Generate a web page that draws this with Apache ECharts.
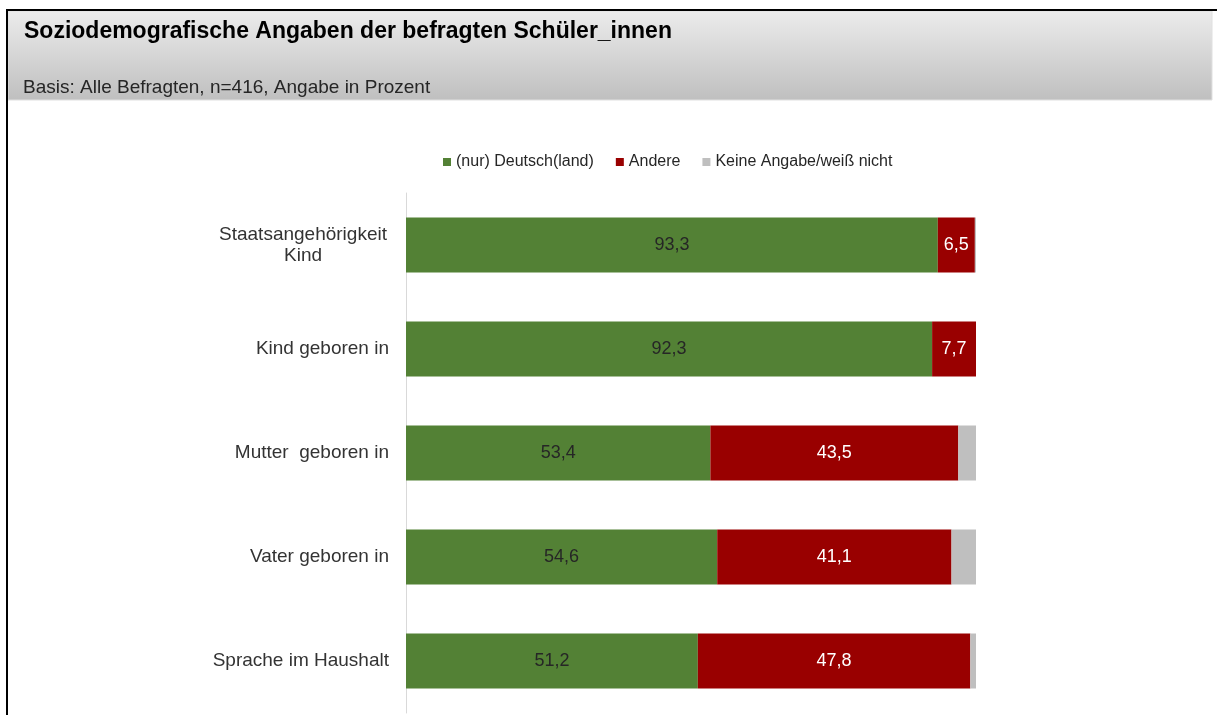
<!DOCTYPE html>
<html>
<head>
<meta charset="utf-8">
<script src="https://cdn.jsdelivr.net/npm/echarts@6/dist/echarts.min.js"></script>
<style>
  html, body { margin: 0; padding: 0; background: #fff; }
  #chart { width: 1217px; height: 715px; }
</style>
</head>
<body>
<div id="chart"></div>
<script>
// Kategorien (von oben nach unten)
const categories = ['Staatsangehörigkeit\nKind', 'Kind geboren in', 'Mutter  geboren in', 'Vater geboren in', 'Sprache im Haushalt'];
// Werte in Prozent
const deutsch = [93.3, 92.3, 53.4, 54.6, 51.2];
const andere = [6.5, 7.7, 43.5, 41.1, 47.8];
const keineAngabe = [0.2, 0, 3.1, 4.3, 1.0];
const seriesNames = ['(nur) Deutsch(land)', 'Andere', 'Keine Angabe/weiß nicht'];

const fmt = (v) => v.toFixed(1).replace('.', ',');

var myChart = echarts.init(document.getElementById('chart'));
var option = {
    animation: false,
    textStyle: { fontFamily: 'Liberation Sans, Arial, sans-serif' },
    graphic: [
        // Kopfzeile mit Verlauf
        {
            type: 'rect',
            shape: { x: 8, y: 11, width: 1204, height: 89 },
            style: {
                fill: new echarts.graphic.LinearGradient(0, 0, 0, 1, [
                    { offset: 0, color: '#ececec' },
                    { offset: 1, color: '#bfbfbf' }
                ]),
                stroke: '#e0e0e0',
                lineWidth: 1
            },
            z: 0
        },
        // Rahmen oben und links
        { type: 'line', shape: { x1: 6, y1: 10, x2: 1217, y2: 10 }, style: { stroke: '#000', lineWidth: 2 }, z: 1 },
        { type: 'line', shape: { x1: 7, y1: 10, x2: 7, y2: 715 }, style: { stroke: '#000', lineWidth: 2 }, z: 1 }
    ],
    title: [
        {
            text: 'Soziodemografische Angaben der befragten Schüler_innen',
            left: 19, top: 15,
            textStyle: { fontSize: 23, fontWeight: 'bold', color: '#000' }
        },
        {
            text: 'Basis: Alle Befragten, n=416, Angabe in Prozent',
            left: 18, top: 73,
            textStyle: { fontSize: 19, fontWeight: 'normal', color: '#262626' }
        }
    ],
    legend: {
        top: 149,
        left: 438,
        itemWidth: 8,
        itemHeight: 8,
        itemGap: 22,
        icon: 'rect',
        textStyle: { fontSize: 16, color: '#262626' },
        data: seriesNames
    },
    grid: {
        left: 406,
        right: 1217 - 976,
        top: 193,
        bottom: 2
    },
    xAxis: {
        type: 'value',
        min: 0,
        max: 100,
        show: false
    },
    yAxis: {
        type: 'category',
        inverse: true,
        data: categories,
        axisTick: { show: false },
        axisLine: { show: true, lineStyle: { color: '#d9d9d9', width: 1 } },
        axisLabel: {
            margin: 17,
            color: '#333333',
            fontSize: 19,
            lineHeight: 21,
            // mehrzeilige Beschriftung zentriert, sonst rechtsbündig
            formatter: (v) => v.indexOf('\n') < 0 ? v : '{c|' + v.split('\n').join('}\n{c|') + '}',
            rich: {
                c: { fontSize: 19, color: '#333333', lineHeight: 21, width: 172, align: 'center' }
            }
        }
    },
    series: [
        {
            name: seriesNames[0],
            type: 'bar',
            stack: 'total',
            barWidth: 55,
            data: deutsch,
            itemStyle: { color: '#538135' },
            label: { show: true, position: 'inside', color: '#262626', fontSize: 18, formatter: (p) => fmt(p.value) }
        },
        {
            name: seriesNames[1],
            type: 'bar',
            stack: 'total',
            data: andere,
            itemStyle: { color: '#990000' },
            label: { show: true, position: 'inside', color: '#ffffff', fontSize: 18, formatter: (p) => fmt(p.value) }
        },
        {
            name: seriesNames[2],
            type: 'bar',
            stack: 'total',
            data: keineAngabe,
            itemStyle: { color: '#bfbfbf' },
            label: { show: false }
        }
    ]
};
myChart.setOption(option);
</script>
</body>
</html>
